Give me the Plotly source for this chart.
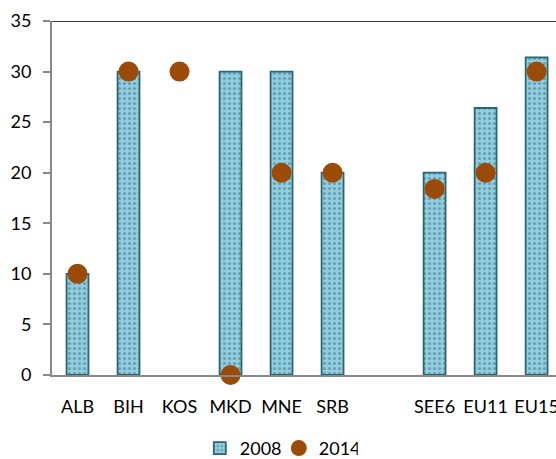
import plotly.graph_objects as go

categories = ["ALB", "BIH", "KOS", "MKD", "MNE", "SRB", " ", "SEE6", "EU11", "EU15"]
values_2008 = [10, 30, None, 30, 30, 20, None, 20, 26.4, 31.4]
values_2014 = [10, 30, 30, 0, 20, 20, None, 18.4, 20, 30]

FONT = "Lato"

fig = go.Figure()
fig.add_trace(go.Bar(
    x=categories, y=values_2008, name="2008", width=0.43,
    marker=dict(color="#93CDDD", line=dict(color="#2B6576", width=1.8),
                pattern=dict(shape=".", fgcolor="#2F7487", bgcolor="#93CDDD",
                             size=5, solidity=0.3)),
))
fig.add_trace(go.Scatter(
    x=categories, y=values_2014, name="2014", mode="markers",
    marker=dict(color="#9C4A07", size=20, line=dict(width=0)),
    cliponaxis=False,
))

fig.add_shape(type="line", xref="paper", yref="y", x0=0, x1=1, y0=35, y1=35,
              line=dict(color="black", width=1.5))

fig.update_layout(
    width=556, height=459,
    margin=dict(l=52, r=0, t=21, b=84, autoexpand=False),
    paper_bgcolor="white", plot_bgcolor="white",
    font=dict(family=FONT, size=18, color="black"),
    showlegend=True,
    legend=dict(orientation="h", x=0.45, xanchor="center", y=-0.155, yanchor="top",
                font=dict(size=18), itemwidth=30, tracegroupgap=0,
                entrywidth=34, entrywidthmode="pixels"),
    bargap=0.57,
    xaxis=dict(type="category", categoryorder="array", categoryarray=categories,
               range=[-0.5, 9.38], showline=True, linecolor="#888888", linewidth=2,
               ticks="", showgrid=False, tickfont=dict(size=18), zeroline=False,
               automargin=False, ticklabelstandoff=14),
    yaxis=dict(range=[0, 35], dtick=5, showline=True, linecolor="#888888", linewidth=2,
               ticks="outside", ticklen=7, tickcolor="#888888", tickwidth=2,
               showgrid=False, zeroline=False, tickfont=dict(size=18),
               automargin=False, ticklabelstandoff=8),
)

fig.write_html("out.html", config={"displayModeBar": False},
               post_script="document.body.style.margin='0';")
